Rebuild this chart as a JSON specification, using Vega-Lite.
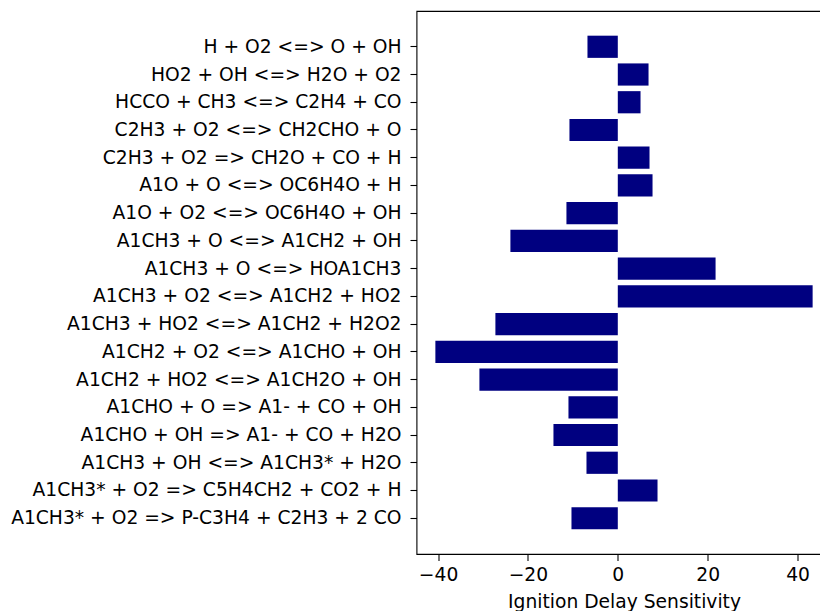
{
  "$schema": "https://vega.github.io/schema/vega-lite/v6.json",
  "autosize": {"type": "none"},
  "padding": {"left": 416.5, "top": 11, "right": 0, "bottom": 57},
  "width": 415,
  "height": 543,
  "background": "white",
  "config": {
    "view": {"stroke": "black", "strokeWidth": 1.1},
    "font": "DejaVu Sans",
    "axis": {
      "labelFont": "DejaVu Sans",
      "titleFont": "DejaVu Sans",
      "labelFontSize": 18.7,
      "titleFontSize": 18.7,
      "labelColor": "black",
      "titleColor": "black",
      "tickColor": "black",
      "tickSize": 6.5,
      "tickWidth": 1.1,
      "domain": false,
      "grid": false,
      "titleFontWeight": "normal"
    }
  },
  "data": {
    "values": [
      {"reaction": "H + O2 <=> O + OH", "sensitivity": -6.75},
      {"reaction": "HO2 + OH <=> H2O + O2", "sensitivity": 6.84},
      {"reaction": "HCCO + CH3 <=> C2H4 + CO", "sensitivity": 5.06},
      {"reaction": "C2H3 + O2 <=> CH2CHO + O", "sensitivity": -10.76},
      {"reaction": "C2H3 + O2 => CH2O + CO + H", "sensitivity": 7.06},
      {"reaction": "A1O + O <=> OC6H4O + H", "sensitivity": 7.73},
      {"reaction": "A1O + O2 <=> OC6H4O + OH", "sensitivity": -11.43},
      {"reaction": "A1CH3 + O <=> A1CH2 + OH", "sensitivity": -23.9},
      {"reaction": "A1CH3 + O <=> HOA1CH3", "sensitivity": 21.76},
      {"reaction": "A1CH3 + O2 <=> A1CH2 + HO2", "sensitivity": 43.36},
      {"reaction": "A1CH3 + HO2 <=> A1CH2 + H2O2", "sensitivity": -27.24},
      {"reaction": "A1CH2 + O2 <=> A1CHO + OH", "sensitivity": -40.6},
      {"reaction": "A1CH2 + HO2 <=> A1CH2O + OH", "sensitivity": -30.8},
      {"reaction": "A1CHO + O => A1- + CO + OH", "sensitivity": -10.98},
      {"reaction": "A1CHO + OH => A1- + CO + H2O", "sensitivity": -14.32},
      {"reaction": "A1CH3 + OH <=> A1CH3* + H2O", "sensitivity": -6.97},
      {"reaction": "A1CH3* + O2 => C5H4CH2 + CO2 + H", "sensitivity": 8.84},
      {"reaction": "A1CH3* + O2 => P-C3H4 + C2H3 + 2 CO", "sensitivity": -10.31}
    ]
  },
  "mark": {"type": "bar", "color": "#000080"},
  "encoding": {
    "y": {
      "field": "reaction",
      "type": "nominal",
      "sort": null,
      "scale": {"paddingInner": 0.2, "paddingOuter": 0.89},
      "axis": {"title": null, "labelPadding": 9, "labelLimit": 500}
    },
    "x": {
      "field": "sensitivity",
      "type": "quantitative",
      "scale": {"domain": [-44.8, 47.56], "nice": false, "zero": false},
      "axis": {"title": "Ignition Delay Sensitivity", "values": [-40, -20, 0, 20, 40], "labelPadding": 5, "titlePadding": 8}
    }
  }
}
